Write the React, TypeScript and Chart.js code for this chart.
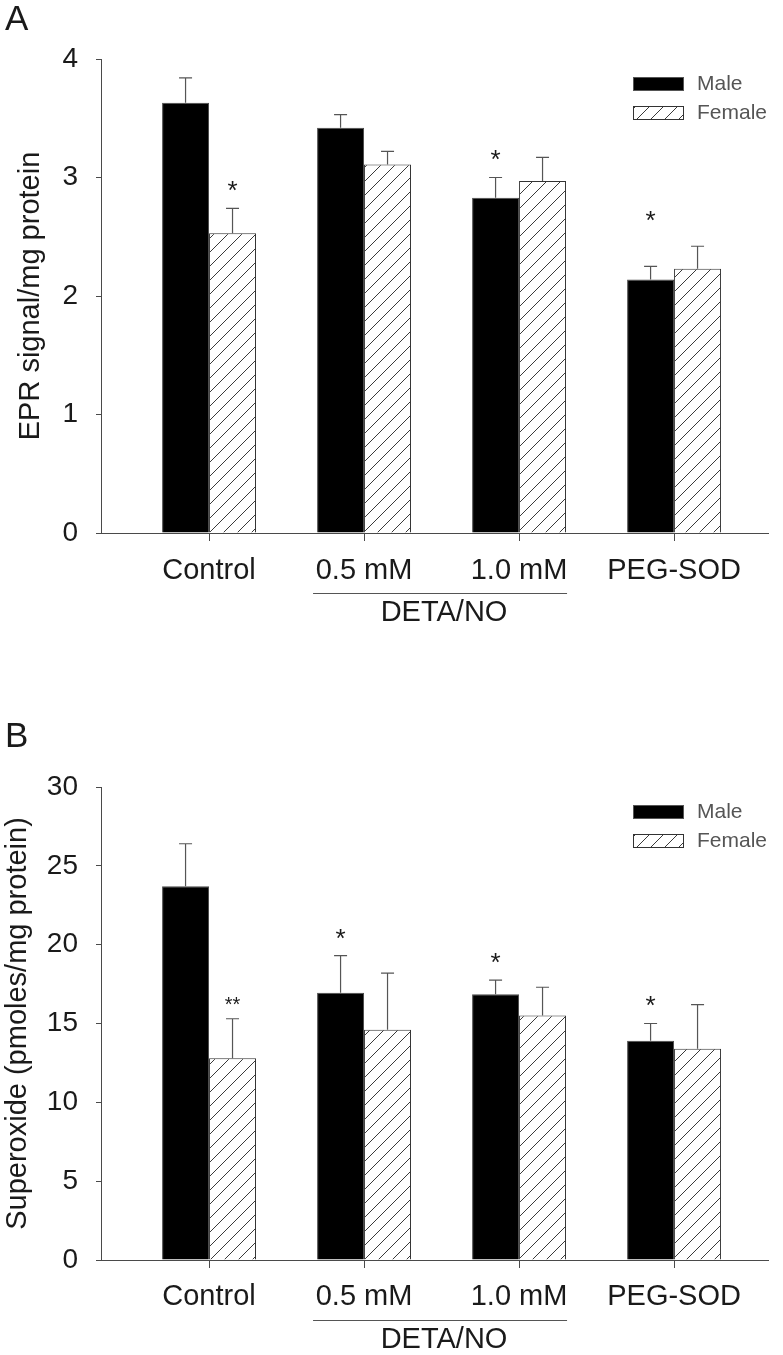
import React, { useEffect, useRef } from 'react';
import { Chart, registerables } from 'chart.js';

Chart.register(...registerables);

const FONT = '"Liberation Sans", Arial, Helvetica, sans-serif';
const INK = '#1a1a1a';
const AXIS = '#4a4a4a';

// ---------- data ----------
const categories = ['Control', '0.5 mM', '1.0 mM', 'PEG-SOD'];
const seriesNames = ['Male', 'Female'];
const groupLabel = 'DETA/NO';
const groupFrom = 1;
const groupTo = 2;

// Panel A: EPR signal / mg protein
const maleA = [3.63, 3.42, 2.83, 2.14];
const maleErrA = [0.21, 0.11, 0.17, 0.11];
const femaleA = [2.53, 3.11, 2.97, 2.23];
const femaleErrA = [0.21, 0.11, 0.2, 0.19];
const maleSigA = ['', '', '*', '*'];
const femaleSigA = ['*', '', '', ''];
const yMaxA = 4;
const yStepA = 1;

// Panel B: Superoxide (pmoles/mg protein)
const maleB = [23.7, 16.95, 16.85, 13.9];
const maleErrB = [2.7, 2.35, 0.9, 1.1];
const femaleB = [12.8, 14.6, 15.5, 13.4];
const femaleErrB = [2.5, 3.6, 1.8, 2.8];
const maleSigB = ['', '*', '*', '*'];
const femaleSigB = ['**', '', '', ''];
const yMaxB = 30;
const yStepB = 5;

type Panel = {
  letter: string;
  letterBaseline: number;
  yTitle: string;
  titlePad: number;
  male: number[];
  maleErr: number[];
  female: number[];
  femaleErr: number[];
  maleSig: string[];
  femaleSig: string[];
  maleSigExtraGap: number[];
  yMax: number;
  yStep: number;
  padTop: number;
  xAxisHeight: number;
  labelPad: number;
  canvasTop: number;
  canvasHeight: number;
};

const panels: Panel[] = [
  {
    letter: 'A',
    letterBaseline: 30,
    yTitle: 'EPR signal/mg protein',
    titlePad: 14,
    male: maleA,
    maleErr: maleErrA,
    female: femaleA,
    femaleErr: femaleErrA,
    maleSig: maleSigA,
    femaleSig: femaleSigA,
    maleSigExtraGap: [0, 0, 0, 28],
    yMax: yMaxA,
    yStep: yStepA,
    padTop: 59,
    xAxisHeight: 117,
    labelPad: 13,
    canvasTop: 0,
    canvasHeight: 650,
  },
  {
    letter: 'B',
    letterBaseline: 47,
    yTitle: 'Superoxide (pmoles/mg protein)',
    titlePad: 1,
    male: maleB,
    maleErr: maleErrB,
    female: femaleB,
    femaleErr: femaleErrB,
    maleSig: maleSigB,
    femaleSig: femaleSigB,
    maleSigExtraGap: [0, 0, 0, 0],
    yMax: yMaxB,
    yStep: yStepB,
    padTop: 87,
    xAxisHeight: 95,
    labelPad: 12,
    canvasTop: 700,
    canvasHeight: 655,
  },
];

function makeHatch(): CanvasPattern | string {
  const s = 14;
  const c = document.createElement('canvas');
  c.width = s;
  c.height = s;
  const g = c.getContext('2d');
  if (!g) return '#ffffff';
  g.fillStyle = '#ffffff';
  g.fillRect(0, 0, s, s);
  g.strokeStyle = '#3a3a3a';
  g.lineWidth = 1;
  g.beginPath();
  for (const k of [-s, 0, s]) {
    g.moveTo(k - 2, s + 2);
    g.lineTo(k + s + 2, -2);
  }
  g.stroke();
  return g.createPattern(c, 'repeat') || '#ffffff';
}

function makeConfig(p: Panel): any {
  const pattern = makeHatch();
  const xMin = -0.697;
  const xMax = 3.606;

  const deco = {
    id: 'deco',
    afterDatasetsDraw(chart: any) {
      const ctx = chart.ctx;
      const ys = chart.scales.y;
      const sets: [number[], number[], string[], number[]][] = [
        [p.male, p.maleErr, p.maleSig, p.maleSigExtraGap],
        [p.female, p.femaleErr, p.femaleSig, [0, 0, 0, 0]],
      ];
      sets.forEach(([vals, errs, sigs, extra], di) => {
        const meta = chart.getDatasetMeta(di);
        meta.data.forEach((bar: any, i: number) => {
          const { x, y } = bar.getProps(['x', 'y'], true);
          const yt = ys.getPixelForValue(vals[i] + errs[i]);
          ctx.save();
          ctx.strokeStyle = '#555555';
          ctx.lineWidth = 1.2;
          ctx.beginPath();
          ctx.moveTo(x, y);
          ctx.lineTo(x, yt);
          ctx.moveTo(x - 6.5, yt);
          ctx.lineTo(x + 6.5, yt);
          ctx.stroke();
          const mark = sigs[i];
          if (mark) {
            const size = mark.length > 1 ? 20 : 26;
            const gap = (mark.length > 1 ? 19 : 24) + (extra[i] || 0);
            const cy = yt - gap;
            ctx.fillStyle = INK;
            ctx.font = `${size}px ${FONT}`;
            ctx.textAlign = 'center';
            ctx.textBaseline = 'alphabetic';
            ctx.fillText(mark, x, cy + 0.57 * size);
          }
          ctx.restore();
        });
      });
    },
    afterDraw(chart: any) {
      const { ctx, chartArea } = chart;
      const xs = chart.scales.x;
      ctx.save();
      // panel letter
      ctx.fillStyle = INK;
      ctx.font = `35px ${FONT}`;
      ctx.textAlign = 'left';
      ctx.textBaseline = 'alphabetic';
      ctx.fillText(p.letter, 5, p.letterBaseline);

      // legend
      const lx = 633;
      const t = chartArea.top;
      ctx.fillStyle = '#000000';
      ctx.fillRect(lx, t + 18, 51, 14);
      ctx.strokeStyle = '#555555';
      ctx.lineWidth = 1;
      ctx.strokeRect(lx + 0.5, t + 18.5, 50, 13);
      ctx.fillStyle = pattern;
      ctx.fillRect(lx, t + 47, 51, 14);
      ctx.strokeStyle = '#333333';
      ctx.strokeRect(lx + 0.5, t + 47.5, 50, 13);
      ctx.fillStyle = '#555555';
      ctx.font = `21px ${FONT}`;
      ctx.textBaseline = 'middle';
      ctx.fillText(seriesNames[0], 697, t + 25);
      ctx.fillText(seriesNames[1], 697, t + 54);

      // group bracket
      const x1 = xs.getPixelForValue(groupFrom) - 51;
      const x2 = xs.getPixelForValue(groupTo) + 48;
      const by = Math.round(chartArea.bottom + 60) + 0.5;
      ctx.strokeStyle = '#555555';
      ctx.lineWidth = 1;
      ctx.beginPath();
      ctx.moveTo(x1, by);
      ctx.lineTo(x2, by);
      ctx.stroke();
      ctx.fillStyle = INK;
      ctx.font = `29px ${FONT}`;
      ctx.textAlign = 'center';
      ctx.textBaseline = 'middle';
      ctx.fillText(groupLabel, (x1 + x2) / 2 + 4, chartArea.bottom + 80);
      ctx.restore();
    },
  };

  return {
    type: 'bar',
    data: {
      datasets: [
        {
          label: seriesNames[0],
          data: categories.map((_, i) => ({ x: i, y: p.male[i] })),
          backgroundColor: '#000000',
          borderColor: '#4a4a4a',
          borderWidth: 1,
          categoryPercentage: 0.606,
          barPercentage: 1,
        },
        {
          label: seriesNames[1],
          data: categories.map((_, i) => ({ x: i, y: p.female[i] })),
          backgroundColor: pattern,
          borderColor: '#333333',
          borderWidth: 1,
          categoryPercentage: 0.606,
          barPercentage: 1,
        },
      ],
    },
    options: {
      animation: false,
      responsive: false,
      maintainAspectRatio: false,
      events: [],
      layout: { padding: { top: p.padTop, right: 15, left: 0, bottom: 0 } },
      plugins: {
        legend: { display: false },
        tooltip: { enabled: false },
        title: { display: false },
      },
      scales: {
        x: {
          type: 'linear',
          min: xMin,
          max: xMax,
          offset: false,
          afterBuildTicks: (scale: any) => {
            scale.ticks = categories.map((_, i) => ({ value: i }));
          },
          afterFit: (scale: any) => {
            scale.height = p.xAxisHeight;
          },
          ticks: {
            autoSkip: false,
            maxRotation: 0,
            minRotation: 0,
            padding: p.labelPad,
            color: INK,
            font: { family: FONT, size: 29 },
            callback: (v: any) => categories[Math.round(Number(v))] ?? '',
          },
          grid: {
            display: true,
            offset: false,
            drawOnChartArea: false,
            drawTicks: true,
            tickLength: 8,
            tickColor: AXIS,
            tickWidth: 1,
          },
          border: { display: true, color: AXIS, width: 1 },
        },
        y: {
          type: 'linear',
          min: 0,
          max: p.yMax,
          afterFit: (scale: any) => {
            scale.width = 101;
          },
          ticks: {
            stepSize: p.yStep,
            padding: 18,
            color: INK,
            font: { family: FONT, size: 28 },
          },
          grid: {
            display: true,
            drawOnChartArea: false,
            drawTicks: true,
            tickLength: 5,
            tickColor: AXIS,
            tickWidth: 1,
          },
          border: { display: true, color: AXIS, width: 1 },
          title: {
            display: true,
            text: p.yTitle,
            color: INK,
            font: { family: FONT, size: 29 },
            padding: { top: p.titlePad, bottom: 0 },
          },
        },
      },
    },
    plugins: [deco],
  };
}

function PanelChart({ panel }: { panel: Panel }) {
  const ref = useRef<HTMLCanvasElement | null>(null);
  useEffect(() => {
    if (!ref.current) return;
    const chart = new Chart(ref.current, makeConfig(panel));
    return () => chart.destroy();
  }, [panel]);
  return (
    <canvas
      ref={ref}
      width={783}
      height={panel.canvasHeight}
      style={{
        position: 'absolute',
        left: 0,
        top: panel.canvasTop,
        width: 783,
        height: panel.canvasHeight,
        display: 'block',
      }}
    />
  );
}

export default function App() {
  return (
    <div
      style={{
        position: 'absolute',
        left: 0,
        top: 0,
        width: 783,
        height: 1355,
        background: '#ffffff',
        overflow: 'hidden',
      }}
    >
      {panels.map((p) => (
        <PanelChart key={p.letter} panel={p} />
      ))}
    </div>
  );
}
